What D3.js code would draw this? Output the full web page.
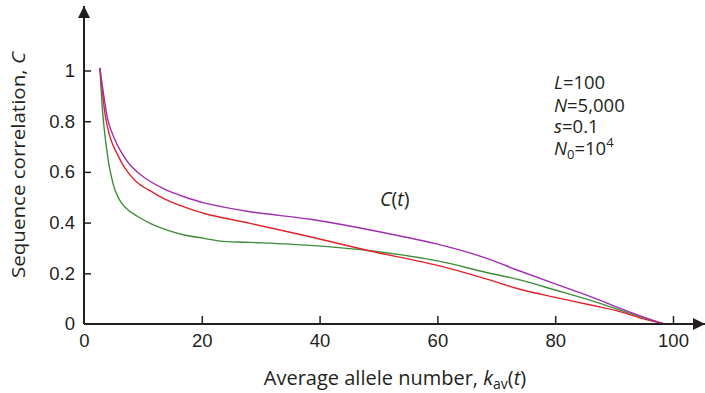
<!DOCTYPE html>
<html>
<head>
<meta charset="utf-8">
<script src="https://cdn.jsdelivr.net/npm/d3@7"></script>
<style>
  html, body { margin: 0; padding: 0; background: #fff; }
  svg { display: block; font-family: "Open Sans", "Noto Sans", sans-serif; }
</style>
</head>
<body>
<svg id="chart" width="705" height="393"></svg>
<script>
// Sequence correlation C(t) versus average allele number k_av(t)
const xTicks = [0, 20, 40, 60, 80, 100];
const yTicks = [0, 0.2, 0.4, 0.6, 0.8, 1];
const yTickLabels = ["0", "0.2", "0.4", "0.6", "0.8", "1"];

const purpleK = [2.7, 3.3, 4.1, 5.0, 6.4, 8.1, 10.4, 13.75, 17, 20.4, 28.2, 38.4, 48.6, 60, 68, 74, 80, 86, 91, 95, 98.5];
const purpleC = [1.01, 0.91, 0.80, 0.74, 0.675, 0.62, 0.575, 0.531, 0.502, 0.478, 0.443, 0.413, 0.371, 0.315, 0.262, 0.209, 0.158, 0.108, 0.062, 0.027, 0];

const redK = [2.7, 3.15, 3.7, 4.6, 5.7, 6.96, 9.2, 11.5, 13.75, 17, 20.4, 28.2, 38.4, 48.6, 60, 68, 74, 80, 86, 91, 95, 98.5];
const redC = [1.01, 0.91, 0.81, 0.725, 0.668, 0.615, 0.555, 0.522, 0.493, 0.462, 0.436, 0.397, 0.344, 0.288, 0.231, 0.18, 0.137, 0.105, 0.075, 0.049, 0.02, 0];

const greenK = [2.7, 2.95, 3.3, 3.85, 4.41, 5.26, 6.4, 7.5, 9.2, 11.5, 13.75, 17, 20.4, 23.1, 28.2, 38.4, 48.6, 60, 68, 74, 80, 86, 91, 95, 98.5];
const greenC = [1.01, 0.91, 0.80, 0.69, 0.607, 0.529, 0.476, 0.450, 0.423, 0.394, 0.373, 0.351, 0.338, 0.327, 0.322, 0.31, 0.289, 0.249, 0.205, 0.174, 0.134, 0.093, 0.055, 0.025, 0];

const series = [
  { k: greenK, c: greenC, color: "#3f8c3a" },
  { k: redK, c: redC, color: "#e2222b" },
  { k: purpleK, c: purpleC, color: "#a02eb0" }
];

const svg = d3.select("#chart");
const ink = "#231f20";

const x = d3.scaleLinear().domain([0, 100]).range([84, 673]);
const y = d3.scaleLinear().domain([0, 1]).range([324, 70.5]);

// arrowheads
const defs = svg.append("defs");
defs.append("marker")
  .attr("id", "arrow")
  .attr("viewBox", "0 0 10 10")
  .attr("refX", 10).attr("refY", 5)
  .attr("markerUnits", "userSpaceOnUse")
  .attr("markerWidth", 20).attr("markerHeight", 12)
  .attr("orient", "auto")
  .append("path").attr("d", "M0,0 L10,5 L0,10 Z").attr("fill", ink);

// curves
const line = d3.line().x(d => x(d[0])).y(d => y(d[1])).curve(d3.curveCatmullRom.alpha(0.5));
series.forEach(s => {
  svg.append("path")
    .datum(s.k.map((k, i) => [k, s.c[i]]))
    .attr("d", line)
    .attr("fill", "none")
    .attr("stroke", s.color)
    .attr("stroke-width", 1.4);
});

// axes
const xAxis = svg.append("g").attr("transform", `translate(0,${y(0)})`)
  .call(d3.axisBottom(x).tickValues(xTicks).tickSize(-8).tickPadding(0).tickFormat(d3.format("d")));
xAxis.select(".domain").remove();
xAxis.selectAll(".tick line").attr("stroke", ink).attr("stroke-width", 1.5)
  .filter(d => d === 0).remove();
xAxis.selectAll(".tick text").attr("fill", ink).attr("font-size", 18.5).attr("dy", "1.27em");

const yAxis = svg.append("g").attr("transform", `translate(${x(0)},0)`)
  .call(d3.axisLeft(y).tickValues(yTicks).tickSize(-7).tickPadding(9).tickFormat((d, i) => yTickLabels[i]));
yAxis.select(".domain").remove();
yAxis.selectAll(".tick line").attr("stroke", ink).attr("stroke-width", 1.5)
  .filter(d => d === 0).remove();
yAxis.selectAll(".tick text").attr("fill", ink).attr("font-size", 18.5);

// axis lines with arrows
svg.append("line")
  .attr("x1", x(0)).attr("y1", y(0)).attr("x2", 705).attr("y2", y(0))
  .attr("stroke", ink).attr("stroke-width", 2).attr("marker-end", "url(#arrow)");
svg.append("line")
  .attr("x1", x(0)).attr("y1", y(0)).attr("x2", x(0)).attr("y2", 6)
  .attr("stroke", ink).attr("stroke-width", 2).attr("marker-end", "url(#arrow)");

// axis titles
const yTitle = svg.append("text")
  .attr("transform", `translate(25,165) rotate(-90)`)
  .attr("text-anchor", "middle").attr("fill", ink).attr("font-size", 19)
  .attr("textLength", 226).attr("lengthAdjust", "spacingAndGlyphs");
yTitle.append("tspan").text("Sequence correlation, ");
yTitle.append("tspan").attr("font-style", "italic").text("C");

const xTitle = svg.append("text")
  .attr("x", 395).attr("y", 385)
  .attr("text-anchor", "middle").attr("fill", ink).attr("font-size", 20);
xTitle.append("tspan").text("Average allele number, ");
xTitle.append("tspan").attr("font-style", "italic").text("k");
xTitle.append("tspan").attr("font-size", 14).attr("dy", 4).text("av");
xTitle.append("tspan").attr("dy", -4).text("(");
xTitle.append("tspan").attr("font-style", "italic").text("t");
xTitle.append("tspan").text(")");

// curve label
const cl = svg.append("text").attr("x", 380).attr("y", 206).attr("fill", ink).attr("font-size", 19.5);
cl.append("tspan").attr("font-style", "italic").text("C");
cl.append("tspan").text("(");
cl.append("tspan").attr("font-style", "italic").text("t");
cl.append("tspan").text(")");

// parameter block
const params = [
  { v: "L", sub: null, rest: "=100", sup: null },
  { v: "N", sub: null, rest: "=5,000", sup: null },
  { v: "s", sub: null, rest: "=0.1", sup: null },
  { v: "N", sub: "0", rest: "=10", sup: "4" }
];
const baselines = [89, 111.5, 133, 155];
params.forEach((p, i) => {
  const t = svg.append("text").attr("x", 554).attr("y", baselines[i]).attr("fill", ink).attr("font-size", 18.5);
  t.append("tspan").attr("font-style", "italic").text(p.v);
  if (p.sub) {
    t.append("tspan").attr("font-size", 13).attr("dy", 4).text(p.sub);
    t.append("tspan").attr("dy", -4).text(p.rest);
  } else {
    t.append("tspan").text(p.rest);
  }
  if (p.sup) t.append("tspan").attr("font-size", 13).attr("dy", -8).text(p.sup);
});
</script>
</body>
</html>
